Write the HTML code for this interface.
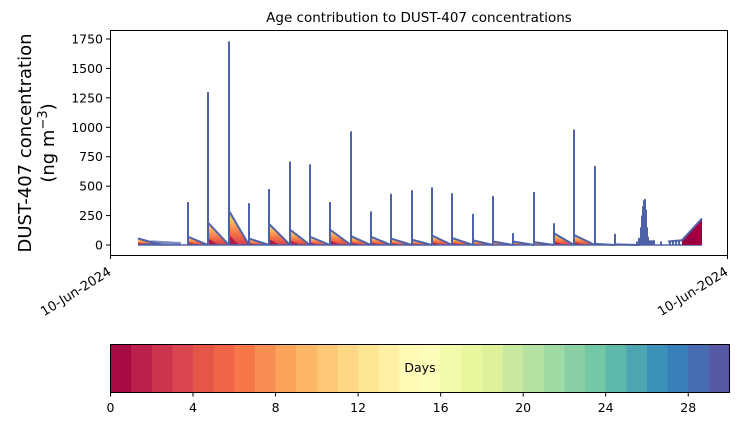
<!DOCTYPE html>
<html><head><meta charset="utf-8"><style>
body{margin:0;background:#fff;width:739px;height:425px;overflow:hidden}
svg{font-family:"DejaVu Sans","Liberation Sans",sans-serif}
</style></head><body>
<svg id="s" width="739" height="425" xmlns="http://www.w3.org/2000/svg">
<defs>
<linearGradient id="g" x1="0" y1="0" x2="0" y2="1">
<stop offset="0" stop-color="#fee08b"/><stop offset="0.35" stop-color="#fdae61"/><stop offset="0.7" stop-color="#f46d43"/><stop offset="1" stop-color="#d53e4f"/>
</linearGradient>
</defs>
<g id="plot"></g>
<rect x="110.5" y="30.5" width="617" height="225" fill="none" stroke="#000" stroke-width="1"/>
<text x="419" y="22" font-size="13.5" text-anchor="middle">Age contribution to DUST-407 concentrations</text>
<g id="yt" font-size="12.5" text-anchor="end"></g>
<text transform="translate(31,143) rotate(-90)" font-size="18" text-anchor="middle">DUST-407 concentration</text>
<text transform="translate(54,143) rotate(-90)" font-size="18" text-anchor="middle">(ng m<tspan dy="-7" font-size="13">−3</tspan><tspan dy="7">)</tspan></text>
<line x1="110.5" y1="255" x2="110.5" y2="259" stroke="#000"/>
<line x1="727.5" y1="255" x2="727.5" y2="259" stroke="#000"/>
<text transform="translate(112,274) rotate(-32)" font-size="13" text-anchor="end">10-Jun-2024</text>
<text transform="translate(729,274) rotate(-32)" font-size="13" text-anchor="end">10-Jun-2024</text>
<g id="cb"></g>
<rect x="110.5" y="344.5" width="619" height="48" fill="none" stroke="#000"/>
<text x="420" y="372" font-size="12.5" text-anchor="middle">Days</text>
<g id="ct" font-size="12.5" text-anchor="middle"></g>
</svg>
<script>
const NS="http://www.w3.org/2000/svg";
function el(p,t,a){const e=document.createElementNS(NS,t);for(const k in a)e.setAttribute(k,a[k]);p.appendChild(e);return e}
const Y=v=>245-v*206/1750;
const yt=document.getElementById('yt');
for(let v=0;v<=1750;v+=250){const y=Y(v);el(yt,'line',{x1:106,x2:110,y1:y,y2:y,stroke:'#000'});const t=el(yt,'text',{x:103,y:y+4.5});t.textContent=v;}
const P=document.getElementById('plot');
const sp=[[138,55,55],[188,365,70],[208,1300,190],[229,1730,290],[249,355,55],[269,475,180],[290,710,130],[310,685,70],[330,365,130],[351,965,75],[371,285,70],[391,435,55],[412,465,45],[432,490,80],[452,440,60],[473,265,40],[493,415,30],[513,100,30],[534,450,25],[554,185,100],[574,980,85],[595,670,10],[615,95,5],[640,0,0]];
const B='#4e62a8';
for(let i=0;i<sp.length-1;i++){let [x,p,h]=sp[i],nx=sp[i+1][0];
 if(i==0)nx=162;
 if(h>0){el(P,'polygon',{points:`${x},${Y(0)} ${x},${Y(h)} ${nx},${Y(0)}`,fill:'url(#g)'});
 el(P,'polygon',{points:`${x},${Y(0)} ${x},${Y(h*0.3)} ${x+(nx-x)*0.5},${Y(0)}`,fill:'#a50f43',opacity:0.8});
 el(P,'line',{x1:x,y1:Y(h),x2:nx,y2:Y(0),stroke:B,'stroke-width':2});}
 if(p>h)el(P,'line',{x1:x,y1:Y(0),x2:x,y2:Y(p),stroke:B,'stroke-width':2});}
for(let x=144;x<182;x+=2)el(P,'line',{x1:x,y1:Y(0),x2:x,y2:Y(15+((x*37)%25)),stroke:B,'stroke-width':1.5});
el(P,'line',{x1:138,y1:Y(0),x2:702,y2:Y(0),stroke:B,'stroke-width':1.5});
const bump=[[637,30],[639,60],[641,150],[642,250],[643,330],[644,380],[645,390],[646,300],[647,150],[648,70],[650,40],[652,40],[654,40]];
for(const [x,v] of bump)el(P,'line',{x1:x,y1:Y(0),x2:x,y2:Y(v),stroke:B,'stroke-width':2});
for(const [x,v] of [[661,30],[670,25],[673,40],[676,40],[679,45]])el(P,'line',{x1:x,y1:Y(0),x2:x,y2:Y(v),stroke:B,'stroke-width':2});
el(P,'polygon',{points:`682,${Y(0)} 682,${Y(40)} 702,${Y(225)} 702,${Y(0)}`,fill:'#9e0142'});
el(P,'polyline',{points:`668,${Y(30)} 682,${Y(40)} 702,${Y(225)}`,fill:'none',stroke:B,'stroke-width':2});
const st=['#9e0142','#d53e4f','#f46d43','#fdae61','#fee08b','#ffffbf','#e6f598','#abdda4','#66c2a5','#3288bd','#5e4fa2'].map(h=>[1,3,5].map(i=>parseInt(h.substr(i,2),16)));
function cm(t){const f=t*10,i=Math.min(9,Math.floor(f)),r=f-i;return 'rgb('+st[i].map((c,k)=>Math.round(c+(st[i+1][k]-c)*r)).join(',')+')'}
const cb=document.getElementById('cb'),w=619/30;
for(let i=0;i<30;i++)el(cb,'rect',{x:110.5+i*w,y:344.5,width:w+0.5,height:48,fill:cm((i+0.5)/30)});
const ct=document.getElementById('ct');
for(let v=0;v<=28;v+=4){const x=110.5+v*w;el(ct,'line',{x1:x,x2:x,y1:392.5,y2:396.5,stroke:'#000'});const t=el(ct,'text',{x:x,y:412});t.textContent=v;}
</script>
</body></html>
